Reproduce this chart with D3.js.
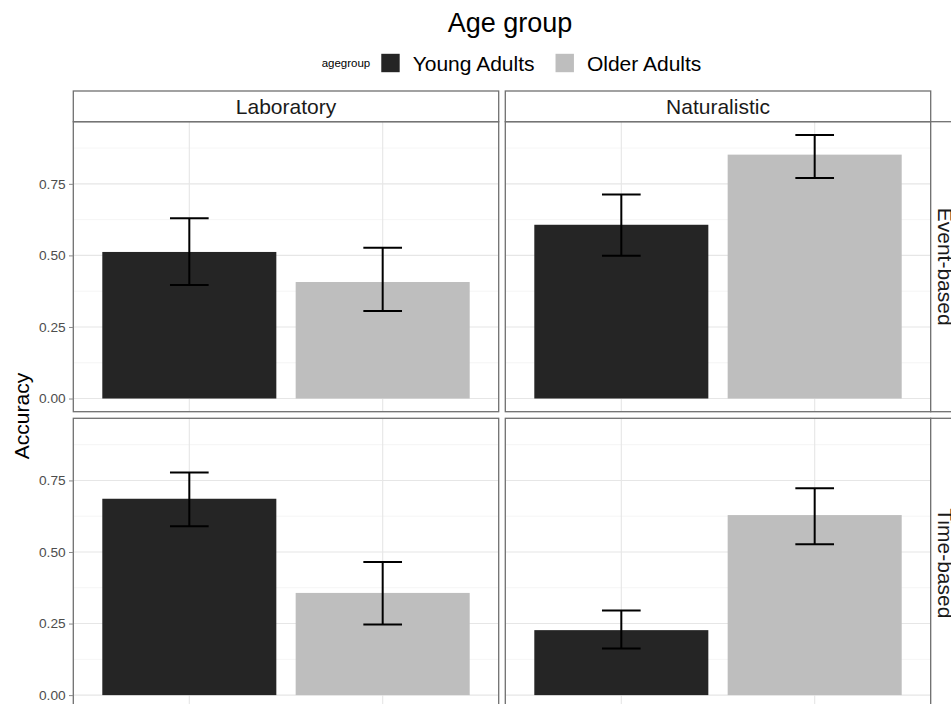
<!DOCTYPE html>
<html><head><meta charset="utf-8">
<script src="https://cdn.jsdelivr.net/npm/d3@7"></script>
<style>
body{margin:0;background:#fff;overflow:hidden}
svg{display:block;font-family:"Liberation Sans",Arial,Helvetica,sans-serif}
</style>
</head><body>
<script>
// ---- data ----
const settings = ["Laboratory", "Naturalistic"];
const taskTypes = ["Event-based", "Time-based"];
const ageGroups = ["Young Adults", "Older Adults"];
// order: Event/Lab, Event/Nat, Time/Lab, Time/Nat ; within each: Young, Older
const accMean  = [0.512, 0.407, 0.607, 0.852, 0.686, 0.357, 0.227, 0.629];
const accLower = [0.397, 0.306, 0.499, 0.770, 0.590, 0.247, 0.163, 0.527];
const accUpper = [0.630, 0.527, 0.713, 0.921, 0.778, 0.465, 0.296, 0.723];
const yTicks = [0, 0.25, 0.5, 0.75];
const yMinorTicks = [0.125, 0.375, 0.625, 0.875];
const fillColors = ["#252525", "#bebebe"];

// ---- build records ----
const records = [];
let k = 0;
taskTypes.forEach((t, ti) => settings.forEach((s, si) => ageGroups.forEach((g, gi) => {
  records.push({type: t, ti, setting: s, si, group: g, gi, mean: accMean[k], lo: accLower[k], hi: accUpper[k]});
  k++;
})));

// ---- layout ----
const W = 951, H = 704;
const plotLeft = 73.3, plotRight = 930.7, colGap = 6.6;
const stripTop = 91, stripH = 30.7, rowGap = 6.6, panelH = 290;
const panelTop = stripTop + stripH;
const panelW = (plotRight - plotLeft - colGap) / 2;
const rightStripW = 30;
const borderCol = "#707070";

const svg = d3.select("body").append("svg").attr("width", W).attr("height", H);
svg.append("rect").attr("width", W).attr("height", H).attr("fill", "#fff");

const yMax = d3.max(accUpper), yMin = 0;
const ex = 0.05 * (yMax - yMin);
const y = d3.scaleLinear().domain([yMin - ex, yMax + ex]).range([panelH, 0]);
const x = d3.scaleBand().domain(ageGroups).range([0, panelW]).paddingInner(0.1).paddingOuter(0.15);
const color = d3.scaleOrdinal().domain(ageGroups).range(fillColors);

taskTypes.forEach((t, ti) => {
  settings.forEach((s, si) => {
    const px = plotLeft + si * (panelW + colGap);
    const py = panelTop + ti * (panelH + rowGap);
    const g = svg.append("g").attr("transform", `translate(${px},${py})`);
    g.append("rect").attr("width", panelW).attr("height", panelH).attr("fill", "#fff");
    // minor grid
    g.selectAll(".mn").data(yMinorTicks).join("line")
      .attr("x1", 0).attr("x2", panelW).attr("y1", d => y(d)).attr("y2", d => y(d))
      .attr("stroke", "#f2f2f2").attr("stroke-width", 0.8);
    // major grid
    g.selectAll(".mj").data(yTicks).join("line")
      .attr("x1", 0).attr("x2", panelW).attr("y1", d => y(d)).attr("y2", d => y(d))
      .attr("stroke", "#e6e6e6").attr("stroke-width", 1.1);
    g.selectAll(".vx").data(ageGroups).join("line")
      .attr("x1", d => x(d) + x.bandwidth() / 2).attr("x2", d => x(d) + x.bandwidth() / 2)
      .attr("y1", 0).attr("y2", panelH)
      .attr("stroke", "#e6e6e6").attr("stroke-width", 1.1);
    const recs = records.filter(r => r.ti === ti && r.si === si);
    g.selectAll(".bar").data(recs).join("rect")
      .attr("x", d => x(d.group)).attr("width", x.bandwidth())
      .attr("y", d => y(d.mean)).attr("height", d => y(0) - y(d.mean))
      .attr("fill", d => color(d.group));
    const cw = 0.2 * x.step() / 2;
    const eb = g.selectAll(".eb").data(recs).join("g")
      .attr("transform", d => `translate(${x(d.group) + x.bandwidth() / 2},0)`);
    eb.append("line").attr("y1", d => y(d.lo)).attr("y2", d => y(d.hi)).attr("stroke", "#000").attr("stroke-width", 2);
    eb.append("line").attr("x1", -cw).attr("x2", cw).attr("y1", d => y(d.lo)).attr("y2", d => y(d.lo)).attr("stroke", "#000").attr("stroke-width", 2);
    eb.append("line").attr("x1", -cw).attr("x2", cw).attr("y1", d => y(d.hi)).attr("y2", d => y(d.hi)).attr("stroke", "#000").attr("stroke-width", 2);
    g.append("rect").attr("width", panelW).attr("height", panelH)
      .attr("fill", "none").attr("stroke", borderCol).attr("stroke-width", 1.3);

    // top strip
    if (ti === 0) {
      const st = svg.append("g").attr("transform", `translate(${px},${stripTop})`);
      st.append("rect").attr("width", panelW).attr("height", stripH)
        .attr("fill", "#fff").attr("stroke", borderCol).attr("stroke-width", 1.3);
      st.append("text").attr("x", panelW / 2).attr("y", stripH / 2 + 7.6)
        .attr("text-anchor", "middle").attr("font-size", 21).attr("fill", "#1a1a1a").text(s);
    }
    // right strip
    if (si === settings.length - 1) {
      const rs = svg.append("g").attr("transform", `translate(${px + panelW},${py})`);
      rs.append("rect").attr("width", rightStripW).attr("height", panelH)
        .attr("fill", "#fff").attr("stroke", borderCol).attr("stroke-width", 1.3);
      rs.append("text").attr("transform", `translate(${7.3},${panelH / 2}) rotate(90)`)
        .attr("text-anchor", "middle").attr("font-size", 21).attr("fill", "#1a1a1a").text(t);
    }
    // left axis
    if (si === 0) {
      const ax = g.append("g").call(d3.axisLeft(y).tickValues(yTicks).tickFormat(d3.format(".2f")).tickSize(4.3).tickPadding(3.4));
      ax.select(".domain").remove();
      ax.selectAll(".tick line").attr("stroke", "#8a8a8a").attr("stroke-width", 1);
      ax.selectAll(".tick text").attr("font-size", 13.7).attr("fill", "#4d4d4d")
        .attr("font-family", '"Liberation Sans",Arial,sans-serif');
    }
  });
});

// y-axis title
svg.append("text").attr("transform", `translate(29,${panelTop + panelH + rowGap / 2 + 1}) rotate(-90)`)
  .attr("text-anchor", "middle").attr("font-size", 21).attr("fill", "#000").text("Accuracy");

// title
svg.append("text").attr("x", 510).attr("y", 32).attr("text-anchor", "middle")
  .attr("font-size", 27).attr("fill", "#000").text("Age group");

// legend
const leg = svg.append("g");
const legTitle = leg.append("text").attr("x", 0).attr("y", 4).attr("font-size", 11.5).attr("fill", "#000").text("agegroup");
let cx = legTitle.node().getComputedTextLength() + 11;
ageGroups.forEach((gname, i) => {
  leg.append("rect").attr("x", cx).attr("y", -9.2).attr("width", 18.4).attr("height", 18.4).attr("fill", color(gname));
  cx += 18.4 + 13;
  const tt = leg.append("text").attr("x", cx).attr("y", 7.5).attr("font-size", 21).attr("fill", "#000").text(gname);
  cx += tt.node().getComputedTextLength() + (i < ageGroups.length - 1 ? 21 : 0);
});
leg.attr("transform", `translate(${511.5 - cx / 2},63)`);
</script>
</body></html>
